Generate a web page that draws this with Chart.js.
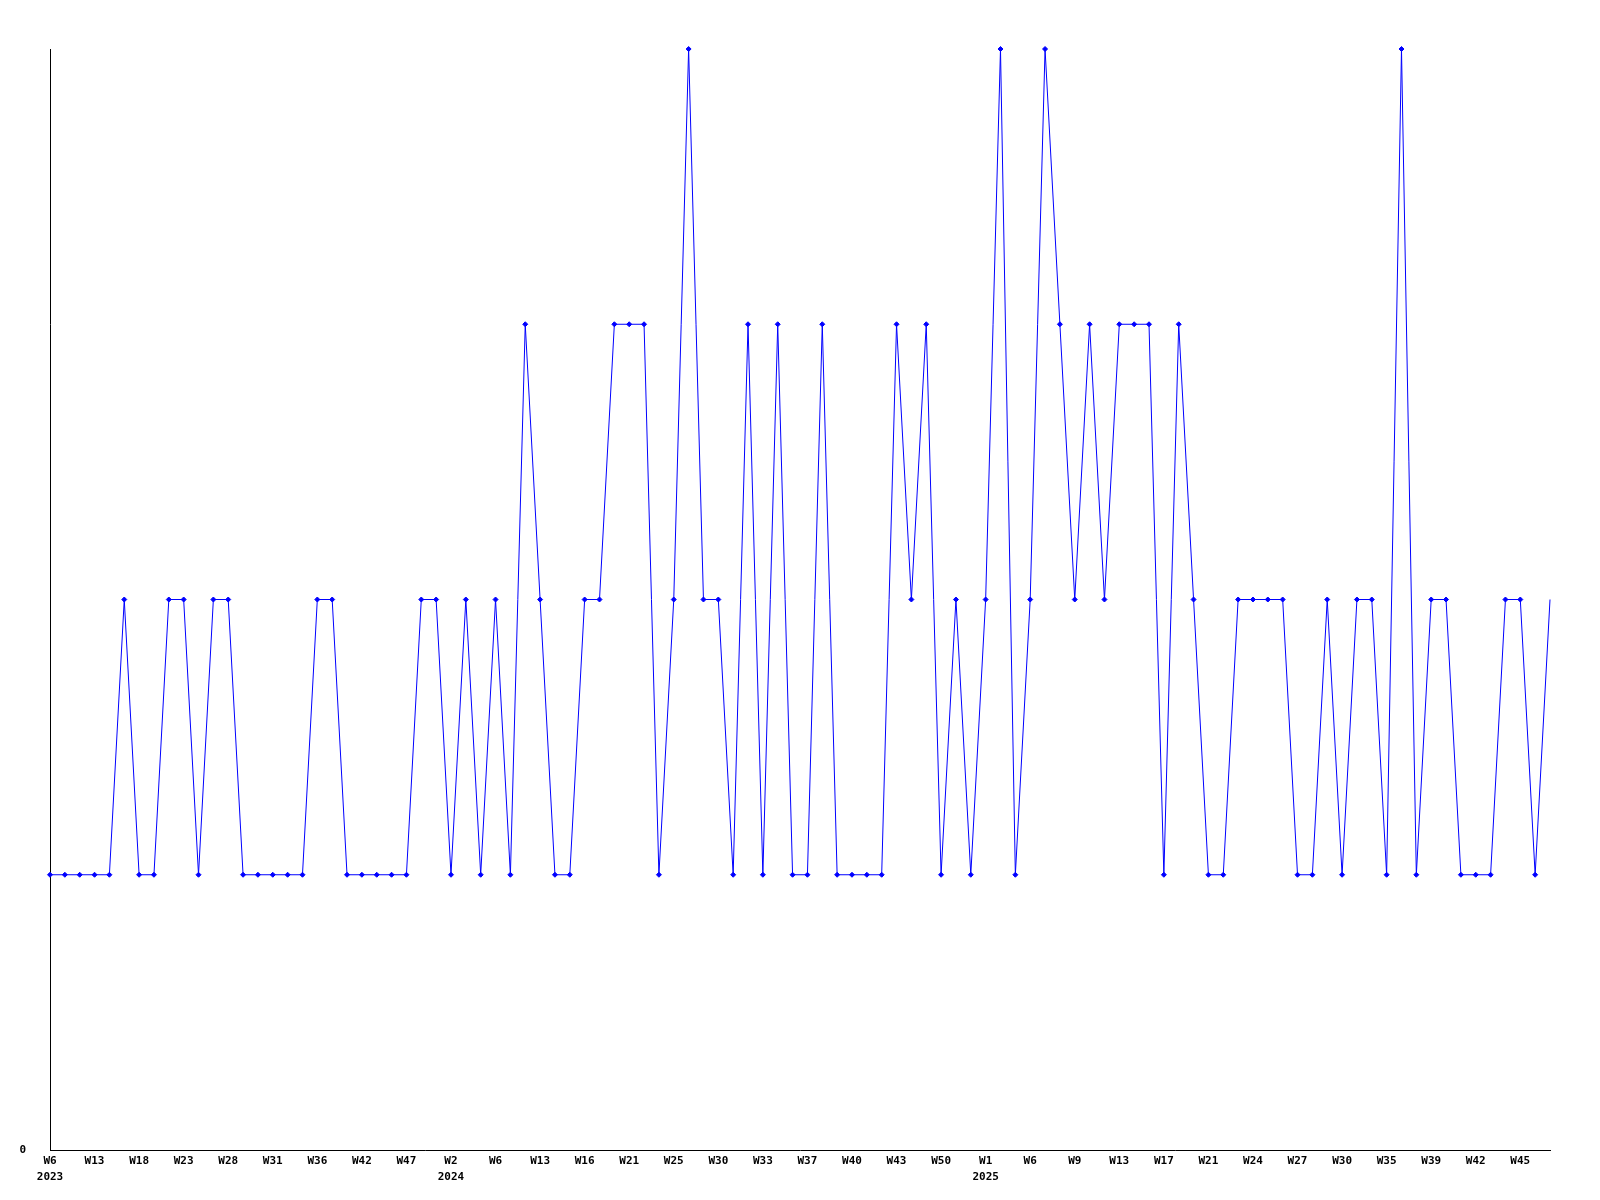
<!DOCTYPE html>
<html>
<head>
<meta charset="utf-8">
<script src="https://cdn.jsdelivr.net/npm/chart.js@4/dist/chart.umd.min.js"></script>
<style>
html,body{margin:0;padding:0;background:#fff;}
#wrap{width:1600px;height:1200px;position:relative;}
</style>
</head>
<body>
<div id="wrap"><canvas id="c" width="1600" height="1200"></canvas></div>
<script>
const weeks = [
  "W6","W8","W10","W13","W15","W16","W18","W20","W21","W23","W25","W26",
  "W28","W29","W30","W31","W33","W34","W36","W38","W40","W42","W44","W45",
  "W47","W49","W51",
  "W2","W3","W5","W6","W9","W11","W13","W14","W15","W16","W18","W19",
  "W21","W22","W23","W25","W27","W28","W30","W31","W32","W33","W34","W36",
  "W37","W38","W39","W40","W41","W42","W43","W45","W48","W50","W51","W52",
  "W1","W3","W4","W6","W7","W8","W9","W10","W12","W13","W14","W16",
  "W17","W18","W20","W21","W22","W23","W24","W25","W26","W27","W28","W29",
  "W30","W32","W33","W35","W36","W38","W39","W40","W41","W42","W43","W44",
  "W45","W46","W47"
];
const years = [
  ...Array(27).fill("2023"),
  ...Array(36).fill("2024"),
  ...Array(39).fill("2025")
];
const values = [
  1,1,1,1,1,2,1,1,2,2,1,2,
  2,1,1,1,1,1,2,2,1,1,1,1,
  1,2,2,1,2,1,2,1,3,2,1,1,
  2,2,3,3,3,1,2,4,2,2,1,3,
  1,3,1,1,3,1,1,1,1,3,2,3,
  1,2,1,2,4,1,2,4,3,2,3,2,
  3,3,3,1,3,2,1,1,2,2,2,2,
  1,1,2,1,2,2,1,4,1,2,2,1,
  1,1,2,2,1,2
];
const yTicks = [0];
const labelEvery = 3;

const tickFont = {family: "'DejaVu Sans Mono', 'Liberation Mono', monospace", size: 11, weight: 'bold', lineHeight: '16px'};

new Chart(document.getElementById('c'), {
  type: 'line',
  data: {
    labels: weeks,
    datasets: [{
      data: values,
      borderColor: '#0000ff',
      backgroundColor: '#0000ff',
      borderWidth: 1,
      pointStyle: 'rectRot',
      pointRadius: ctx => (ctx.dataIndex === values.length - 1 ? 0 : 2.5),
      pointBorderWidth: 1,
      pointHoverRadius: 2.5,
      tension: 0,
      fill: false,
      clip: false
    }]
  },
  options: {
    responsive: false,
    animation: false,
    events: [],
    layout: {padding: {top: 49, right: 50, left: 0, bottom: 0}},
    plugins: {legend: {display: false}, tooltip: {enabled: false}},
    scales: {
      x: {
        offset: false,
        grid: {display: false, drawTicks: false},
        border: {display: true, color: '#000', width: 1},
        afterFit: s => { s.height = 50; },
        ticks: {
          autoSkip: false,
          maxRotation: 0,
          minRotation: 0,
          padding: 3,
          color: '#000',
          font: tickFont,
          callback: function(v, i) {
            if (i % labelEvery !== 0) return '';
            if (i === 0 || years[i] !== years[i - labelEvery]) return [weeks[i], years[i]];
            return weeks[i];
          }
        }
      },
      y: {
        min: 0,
        max: 4,
        grid: {display: false, drawTicks: false},
        border: {display: true, color: '#000', width: 1},
        afterFit: s => { s.width = 50; },
        afterBuildTicks: s => { s.ticks = yTicks.map(v => ({value: v})); },
        ticks: {
          padding: 24,
          color: '#000',
          font: tickFont
        }
      }
    }
  }
});
</script>
</body>
</html>
